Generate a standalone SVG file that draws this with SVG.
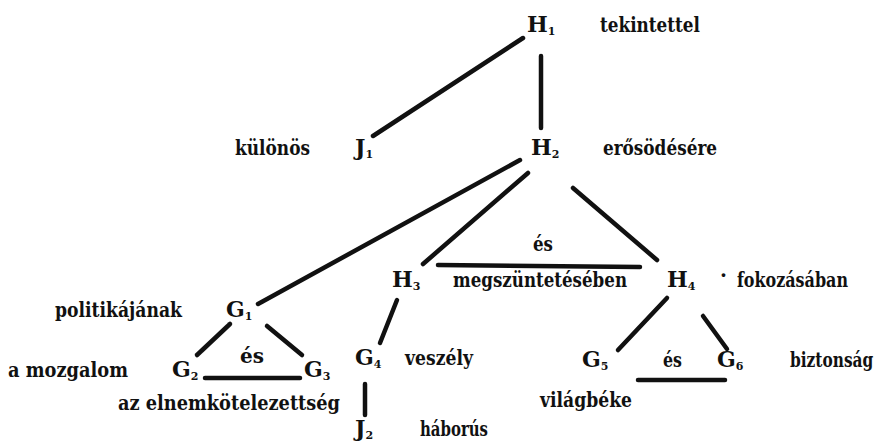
<svg xmlns="http://www.w3.org/2000/svg" width="883" height="444" viewBox="0 0 883 444">
<style>
text{font-family:'DejaVu Serif','Liberation Serif',serif;font-weight:bold;fill:#111;}
.n{font-size:22px;}
.w{font-size:20px;}
.s{font-size:11px;}
.c line{stroke:#111;stroke-width:4.5;stroke-linecap:round;}
</style>
<rect width="883" height="444" fill="#fff"/>
<g class="c" id="connectors">
<line x1="523" y1="38" x2="373" y2="136"/>
<line x1="541" y1="56" x2="541" y2="128"/>
<line x1="520" y1="160" x2="258" y2="304"/>
<line x1="528" y1="173" x2="423" y2="264"/>
<line x1="573" y1="188" x2="657" y2="260"/>
<line x1="438" y1="265" x2="640" y2="267"/>
<line x1="397" y1="300" x2="380" y2="343"/>
<line x1="365" y1="384" x2="365" y2="415"/>
<line x1="230" y1="324" x2="197" y2="355"/>
<line x1="267" y1="326" x2="302" y2="355"/>
<line x1="205" y1="378" x2="300" y2="378"/>
<line x1="667" y1="298" x2="618" y2="350"/>
<line x1="703" y1="316" x2="727" y2="349"/>
<line x1="638" y1="380" x2="725" y2="380"/>
</g>
<g id="H1"><text class="n" x="527" y="32">H<tspan class="s" dy="3">1</tspan></text></g>
<g id="H1-label"><text class="w" x="600" y="32" textLength="100" lengthAdjust="spacingAndGlyphs">tekintettel</text></g>
<g id="J1"><text class="n" x="355" y="155">J<tspan class="s" dy="3">1</tspan></text></g>
<g id="J1-label"><text class="w" x="235" y="155" textLength="75" lengthAdjust="spacingAndGlyphs">különös</text></g>
<g id="H2"><text class="n" x="531" y="155">H<tspan class="s" dy="3">2</tspan></text></g>
<g id="H2-label"><text class="w" x="603" y="155" textLength="114" lengthAdjust="spacingAndGlyphs">erősödésére</text></g>
<g id="H3"><text class="n" x="392" y="287">H<tspan class="s" dy="3">3</tspan></text></g>
<g id="H3-H4-label"><text class="w" x="533" y="251" textLength="20" lengthAdjust="spacingAndGlyphs">és</text><text class="w" x="453" y="287" textLength="174" lengthAdjust="spacingAndGlyphs">megszüntetésében</text></g>
<g id="H4"><text class="n" x="667" y="287">H<tspan class="s" dy="3">4</tspan></text></g>
<g id="H4-label"><text class="w" x="720" y="282">·</text><text class="w" x="737" y="287" textLength="111" lengthAdjust="spacingAndGlyphs">fokozásában</text></g>
<g id="G1"><text class="n" x="226" y="317">G<tspan class="s" dy="3">1</tspan></text></g>
<g id="G1-label"><text class="w" x="55" y="317" textLength="127" lengthAdjust="spacingAndGlyphs">politikájának</text></g>
<g id="G2"><text class="n" x="172" y="377">G<tspan class="s" dy="3">2</tspan></text></g>
<g id="G2-label"><text class="w" x="8" y="377" textLength="120" lengthAdjust="spacingAndGlyphs">a  mozgalom</text></g>
<g id="G3"><text class="n" x="304" y="377">G<tspan class="s" dy="3">3</tspan></text></g>
<g id="G2-G3-label"><text class="w" x="240" y="363" textLength="24" lengthAdjust="spacingAndGlyphs">és</text><text class="w" x="118" y="410" textLength="222" lengthAdjust="spacingAndGlyphs">az  elnemkötelezettség</text></g>
<g id="G4"><text class="n" x="355" y="365">G<tspan class="s" dy="3">4</tspan></text></g>
<g id="G4-label"><text class="w" x="405" y="365" textLength="68" lengthAdjust="spacingAndGlyphs">veszély</text></g>
<g id="J2"><text class="n" x="355" y="436">J<tspan class="s" dy="3">2</tspan></text></g>
<g id="J2-label"><text class="w" x="420" y="436" textLength="68" lengthAdjust="spacingAndGlyphs">háborús</text></g>
<g id="G5"><text class="n" x="582" y="367">G<tspan class="s" dy="3">5</tspan></text></g>
<g id="G5-G6-label"><text class="w" x="663" y="367" textLength="19" lengthAdjust="spacingAndGlyphs">és</text><text class="w" x="540" y="407" textLength="92" lengthAdjust="spacingAndGlyphs">világbéke</text></g>
<g id="G6"><text class="n" x="717" y="367">G<tspan class="s" dy="3">6</tspan></text></g>
<g id="G6-label"><text class="w" transform="translate(790 367) scale(0.77 1)" x="0" y="0">biztonság</text></g>
</svg>
